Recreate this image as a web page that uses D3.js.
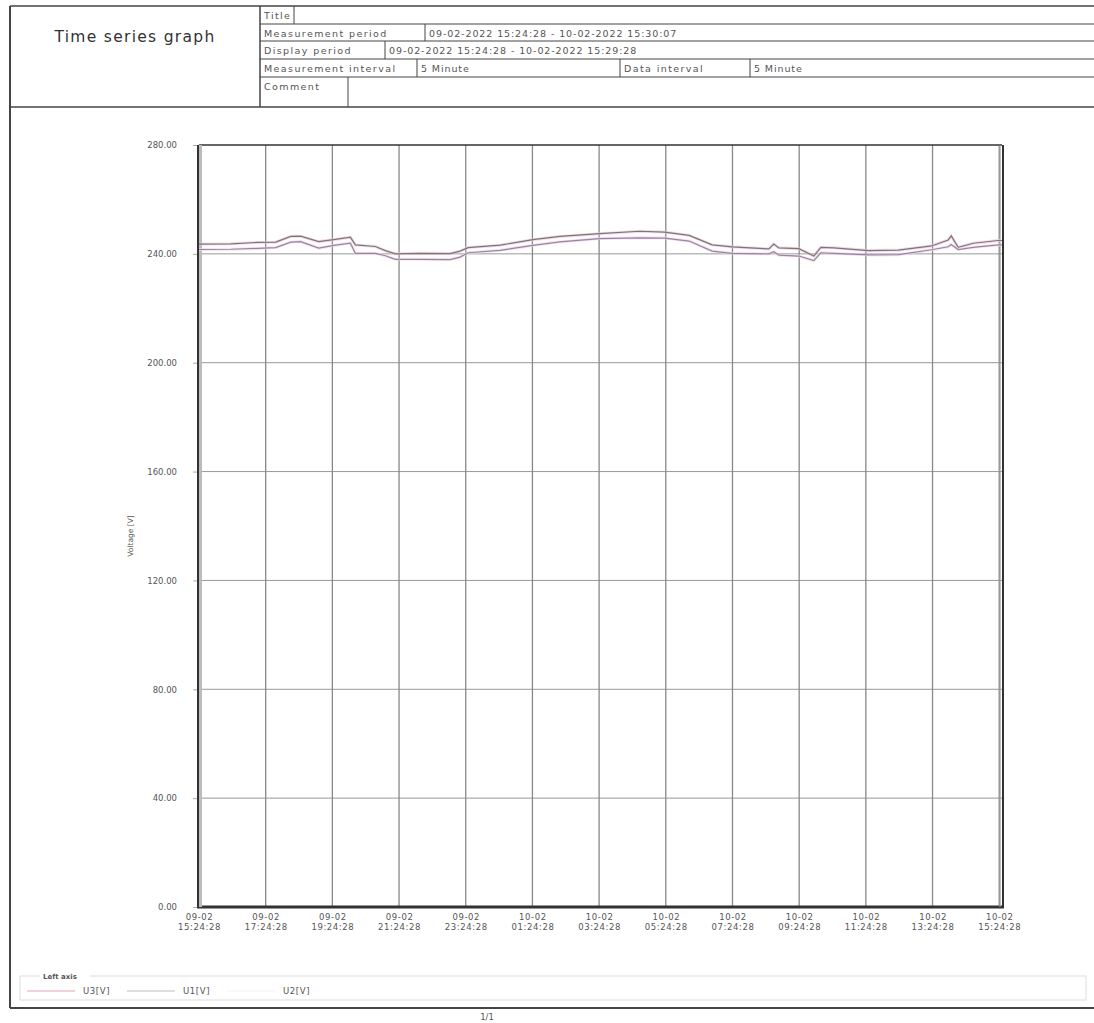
<!DOCTYPE html>
<html>
<head>
<meta charset="utf-8">
<script src="https://cdnjs.cloudflare.com/ajax/libs/d3/7.8.5/d3.min.js"></script>
<style>
  html, body { margin: 0; padding: 0; background: #fff; }
  svg { display: block; font-family: "DejaVu Sans", Verdana, sans-serif; }
</style>
</head>
<body>
<div id="chart"></div>
<script>
// time of each breakpoint, hours after 09-02-2022 15:24:28
const hoursFromStart = [0, 0.96, 1.76, 2.3, 2.75, 3.05, 3.59, 4.09, 4.54, 4.69, 5.29, 5.59, 5.89, 6.63, 7.53, 7.83, 8.07,
    9.03, 10.01, 10.82, 12.01, 13.21, 13.96, 14.7, 15.39, 15.99, 17.09, 17.24, 17.39, 17.99, 18.44, 18.65, 19.04,
    20.08, 20.98, 21.97, 22.47, 22.56, 22.77, 23.22, 23.97, 24.08];

const u1Values = [243.6, 243.7, 244.2, 244.3, 246.4, 246.5, 244.5, 245.3, 246.1, 243.3, 242.7, 241.2, 240.0, 240.2, 240.1, 241.0, 242.3,
    243.2, 245.2, 246.4, 247.4, 248.3, 248.0, 246.8, 243.3, 242.6, 241.8, 243.6, 242.2, 241.9, 239.2, 242.4, 242.2,
    241.2, 241.4, 242.9, 245.1, 246.6, 242.4, 243.9, 244.9, 244.9];

const u3Values = [241.6, 241.7, 242.0, 242.3, 244.3, 244.5, 242.1, 243.2, 243.9, 240.2, 240.2, 239.3, 238.0, 238.0, 237.9, 238.8, 240.4,
    241.3, 243.1, 244.4, 245.6, 245.9, 245.8, 244.7, 241.0, 240.2, 240.0, 240.8, 239.5, 239.2, 237.5, 240.4, 240.2,
    239.6, 239.7, 241.5, 242.6, 243.4, 241.6, 242.4, 243.3, 243.3];

const yTicks = [0, 40, 80, 120, 160, 200, 240, 280];
const headerRows = [
    ["Title", ""],
    ["Measurement period", "09-02-2022 15:24:28 - 10-02-2022 15:30:07"],
    ["Display period", "09-02-2022 15:24:28 - 10-02-2022 15:29:28"],
    ["Measurement interval", "5 Minute", "Data interval", "5 Minute"],
    ["Comment", ""]
];
const legendNames = ["U3[V]", "U1[V]", "U2[V]"];

const W = 1094, H = 1023;
const svg = d3.select("#chart").append("svg").attr("width", W).attr("height", H);
const ink = "#444", txt = "#555";

// ---- header block ----
const hdr = { x0: 10, x1: 1094, split: 260, y0: 6, rowH: [18, 17, 18, 18, 30] };
svg.append("text")
    .attr("x", 135).attr("y", 42)
    .attr("text-anchor", "middle")
    .style("font-size", "15.5px").style("letter-spacing", "1.3px").style("fill", "#333")
    .text("Time series graph");

const cellEnds = [[294], [425], [385], [417, 620, 750], [348]];
let ry = hdr.y0;
svg.append("line").attr("x1", hdr.x0).attr("x2", hdr.x1).attr("y1", ry).attr("y2", ry).attr("stroke", ink).attr("stroke-width", 1.5);
headerRows.forEach((row, i) => {
    const h = hdr.rowH[i];
    const ends = cellEnds[i];
    let cx = hdr.split;
    row.forEach((t, j) => {
        svg.append("text")
            .attr("x", cx + 4).attr("y", ry + 12.5)
            .style("font-size", "9.5px").style("letter-spacing", j % 2 ? "0.9px" : "1.4px").style("fill", txt)
            .text(t);
        if (j < ends.length) {
            cx = ends[j];
            svg.append("line").attr("x1", cx).attr("x2", cx).attr("y1", ry).attr("y2", ry + h)
                .attr("stroke", ink).attr("stroke-width", 1);
        }
    });
    ry += h;
    svg.append("line").attr("x1", hdr.split).attr("x2", hdr.x1).attr("y1", ry).attr("y2", ry)
        .attr("stroke", ink).attr("stroke-width", i === headerRows.length - 1 ? 1.5 : 1);
});
const hdrBottom = ry;
svg.append("line").attr("x1", hdr.x0).attr("x2", hdr.split).attr("y1", hdrBottom).attr("y2", hdrBottom).attr("stroke", ink).attr("stroke-width", 1.5);
svg.append("line").attr("x1", hdr.split).attr("x2", hdr.split).attr("y1", hdr.y0).attr("y2", hdrBottom).attr("stroke", ink).attr("stroke-width", 1.5);

// outer frame
const frameBottom = 1008;
svg.append("line").attr("x1", hdr.x0).attr("x2", hdr.x0).attr("y1", hdr.y0).attr("y2", frameBottom).attr("stroke", ink).attr("stroke-width", 2);
svg.append("line").attr("x1", hdr.x0).attr("x2", W).attr("y1", frameBottom).attr("y2", frameBottom).attr("stroke", ink).attr("stroke-width", 2);
svg.append("text").attr("x", 487).attr("y", 1020).attr("text-anchor", "middle")
    .style("font-size", "8.5px").style("fill", txt).text("1/1");

// ---- chart ----
const plot = { left: 199, right: 1002, top: 145, bottom: 907 };
const start = new Date(2022, 1, 9, 15, 24, 28);
const end = new Date(2022, 1, 10, 15, 29, 28);
const toDate = h => new Date(start.getTime() + h * 3600e3);

const x = d3.scaleTime().domain([start, end]).range([plot.left, plot.right]);
const y = d3.scaleLinear().domain([0, 280]).range([plot.bottom, plot.top]);

const tickDates = d3.range(13).map(i => new Date(start.getTime() + i * 2 * 3600e3));

// gridlines
svg.append("g").selectAll("line").data(yTicks.slice(1, -1)).join("line")
    .attr("x1", plot.left).attr("x2", plot.right)
    .attr("y1", d => y(d)).attr("y2", d => y(d))
    .attr("stroke", "#999").attr("stroke-width", 1);
svg.append("g").selectAll("line").data(tickDates.slice(1)).join("line")
    .attr("x1", d => x(d)).attr("x2", d => x(d))
    .attr("y1", plot.top).attr("y2", plot.bottom)
    .attr("stroke", "#888").attr("stroke-width", 1.3);

// y axis
const yAxis = svg.append("g")
    .attr("transform", `translate(${plot.left},0)`)
    .call(d3.axisLeft(y).tickValues(yTicks).tickFormat(d3.format(".2f")).tickSize(6).tickPadding(16));
yAxis.select(".domain").remove();
yAxis.selectAll(".tick line").attr("stroke", "#aaa");
yAxis.selectAll("text").style("font-size", "8.5px").style("fill", txt).style("font-family", "DejaVu Sans, sans-serif");

svg.append("text")
    .attr("transform", `translate(133,${(plot.top + plot.bottom) / 2 + 10}) rotate(-90)`)
    .attr("text-anchor", "middle")
    .style("font-size", "7.5px").style("fill", txt)
    .text("Voltage [V]");

// x axis
const fmtDay = d3.timeFormat("%d-%m"), fmtTime = d3.timeFormat("%H:%M:%S");
const xAxis = svg.append("g")
    .attr("transform", `translate(0,${plot.bottom})`)
    .call(d3.axisBottom(x).tickValues(tickDates).tickSize(0).tickFormat(""));
xAxis.select(".domain").remove();
xAxis.selectAll(".tick").each(function (d) {
    const t = d3.select(this).append("text").attr("text-anchor", "middle")
        .style("font-size", "8.5px").style("letter-spacing", "0.6px").style("fill", txt).style("font-family", "DejaVu Sans, sans-serif");
    t.append("tspan").attr("x", 0).attr("y", 13).text(fmtDay(d));
    t.append("tspan").attr("x", 0).attr("y", 23).text(fmtTime(d));
});

// plot borders
svg.append("line").attr("x1", plot.left).attr("x2", plot.right).attr("y1", plot.top).attr("y2", plot.top).attr("stroke", "#333").attr("stroke-width", 1.5);
svg.append("line").attr("x1", plot.left - 2).attr("x2", plot.right + 2).attr("y1", plot.bottom).attr("y2", plot.bottom).attr("stroke", "#333").attr("stroke-width", 3);
svg.append("rect").attr("x", plot.left - 2).attr("y", plot.top).attr("width", 5).attr("height", plot.bottom - plot.top).attr("fill", "#bbb");
svg.append("line").attr("x1", plot.left - 1).attr("x2", plot.left - 1).attr("y1", plot.top).attr("y2", plot.bottom).attr("stroke", "#333").attr("stroke-width", 2);
svg.append("line").attr("x1", plot.right - 2).attr("x2", plot.right - 2).attr("y1", plot.top).attr("y2", plot.bottom).attr("stroke", "#999").attr("stroke-width", 1.2);
svg.append("line").attr("x1", plot.right + 1).attr("x2", plot.right + 1).attr("y1", plot.top).attr("y2", plot.bottom).attr("stroke", "#333").attr("stroke-width", 2);

// series
const line = d3.line().x(d => x(d.t)).y(d => y(d.v));
const series = [
    { name: "U1", values: u1Values, color: "#7d747c", halo: "#ecccd8" },
    { name: "U3", values: u3Values, color: "#9c82a6", halo: "#eedae6" }
];
series.forEach(s => {
    const pts = hoursFromStart.map((h, i) => ({ t: toDate(h), v: s.values[i] }));
    svg.append("path").datum(pts).attr("d", line).attr("fill", "none")
        .attr("stroke", s.halo).attr("stroke-width", 3).attr("opacity", 0.7);
    svg.append("path").datum(pts).attr("d", line).attr("fill", "none")
        .attr("stroke", s.color).attr("stroke-width", 1.2);
});

// ---- legend ----
const lg = svg.append("g");
lg.append("rect").attr("x", 20).attr("y", 976).attr("width", 1066).attr("height", 24)
    .attr("fill", "none").attr("stroke", "#ddd").attr("stroke-width", 1);
lg.append("rect").attr("x", 40).attr("y", 970).attr("width", 50).attr("height", 10).attr("fill", "#fff");
lg.append("text").attr("x", 43).attr("y", 979).style("font-size", "7px").style("font-weight", "bold").style("fill", "#555").text("Left axis");
const legendColors = ["#e2a4b6", "#bbbbbb", "#f6f0f0"];
legendNames.forEach((n, i) => {
    const lx = 27 + i * 100;
    lg.append("line").attr("x1", lx).attr("x2", lx + 48).attr("y1", 991).attr("y2", 991)
        .attr("stroke", legendColors[i]).attr("stroke-width", 1);
    lg.append("text").attr("x", lx + 56).attr("y", 994).style("font-size", "8.5px").style("letter-spacing", "0.6px").style("fill", txt).text(n);
});
</script>
</body>
</html>
